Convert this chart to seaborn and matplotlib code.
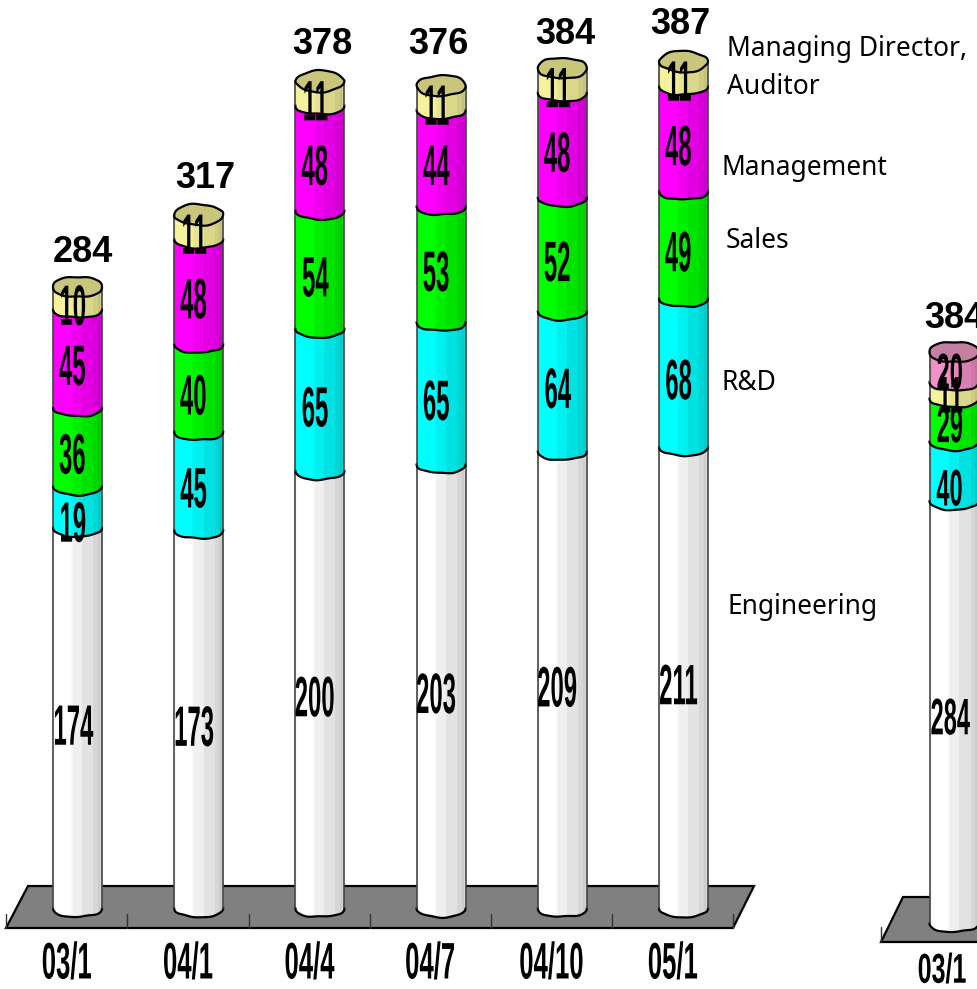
import numpy as np
import pandas as pd
import matplotlib
matplotlib.use("Agg")
import matplotlib.pyplot as plt
import seaborn as sns
from matplotlib.path import Path
from matplotlib.patches import Polygon
from matplotlib.patheffects import AbstractPathEffect
from matplotlib.transforms import Affine2D

# ---------- data ----------
dates = ["03/1", "04/1", "04/4", "04/7", "04/10", "05/1"]
engineering = [174, 173, 200, 203, 209, 211]
rnd = [19, 45, 65, 65, 64, 68]
sales = [36, 40, 54, 53, 52, 49]
management = [45, 48, 48, 44, 48, 48]
director = [10, 11, 11, 11, 11, 11]
totals = [284, 317, 378, 376, 384, 387]

dates2 = ["03/1"]
engineering2 = [284]
rnd2 = [40]
sales2 = [29]
director2 = [11]
management2 = [20]
totals2 = [384]

W, H = 977, 989
PPU1, PPU2 = 2.187, 1.487
UNIT = 121.2

sns.set_style("white")
fig = plt.figure(figsize=(W / 100, H / 100), dpi=100, facecolor="white")
px = Affine2D().scale(1 / W, -1 / H).translate(0, 1) + fig.transFigure


class Squeeze(AbstractPathEffect):
    """Condense a text horizontally about its own centre."""
    def __init__(self, sx, stroke=0.0):
        super().__init__()
        self.sx, self.stroke = sx, stroke

    def draw_path(self, renderer, gc, tpath, affine, rgbFace=None):
        ext = affine.transform_path(tpath).get_extents()
        cx = (ext.x0 + ext.x1) / 2
        tr = affine + Affine2D().translate(-cx, 0).scale(self.sx, 1).translate(cx, 0)
        g = renderer.new_gc()
        g.copy_properties(gc)
        g.set_linewidth(self.stroke)
        g.set_foreground("black")
        renderer.draw_path(g, tpath, tr, rgbFace)
        g.restore()


PROFILE = np.array([.98, 1, 1, 1, 1, 1, 1, 1, .97, .94, .94, .94, .94, .89, .89, .89, .89,
                    .89, .84, .84, .80, .84])


def shade(color):
    rgb = np.array(matplotlib.colors.to_rgb(color))
    return (rgb[None, None, :] * PROFILE[None, :, None]).clip(0, 1)


def wobble(th, k):
    return 0.7 * np.sin(3 * th + 1.7 * k) + 0.3 * np.sin(7 * th + k)


def draw_stack(ax, cats, series, colors, cap_color, ppu, width):
    bottoms = np.zeros(len(cats))
    h_arc = 9 / ppu
    n = 0
    for vals, col in zip(series, colors):
        n += 1
        df = pd.DataFrame({"date": cats, "count": vals})
        sns.barplot(data=df, x="date", y="count", color=col, width=width, bottom=bottoms,
                    ax=ax, errorbar=None, saturation=1, linewidth=0, order=cats)
        z = 2 + n * 0.1
        th = np.linspace(np.pi, 2 * np.pi, 60)
        for j, rect in enumerate(ax.containers[-1]):
            l, r = rect.get_x(), rect.get_x() + rect.get_width()
            b, t = rect.get_y(), rect.get_y() + rect.get_height()
            c = (l + r) / 2
            env = np.abs(np.sin(th))
            arc_x = c + (r - l) / 2 * np.cos(th)
            arc_y = b - h_arc * env ** 0.8 + wobble(th, n * 3 + j * 2) * env / ppu
            verts = [(l, t)] + list(zip(arc_x, arc_y)) + [(r, t), (l, t)]
            im = ax.imshow(shade(col), extent=(l, r, b - 2 * h_arc, t), aspect="auto",
                           interpolation="nearest", zorder=z)
            im.set_clip_path(Path(verts), ax.transData)
            ax.plot(arc_x, arc_y, color="black", lw=1.6, zorder=z + 0.05)
            ax.plot([l, l], [b, t], color="#444444", lw=1.2, zorder=z + 0.05)
            ax.plot([r, r], [b, t], color="#444444", lw=1.2, zorder=z + 0.05)
        bottoms = bottoms + np.array(vals)
    th = np.linspace(0, 2 * np.pi, 120)
    for j, (rect, top) in enumerate(zip(ax.containers[-1], bottoms)):
        c = rect.get_x() + rect.get_width() / 2
        cap_x = c + rect.get_width() / 2 * np.cos(th)
        cap_y = top + (10.5 * np.sin(th) + wobble(th, j)) / ppu
        ax.add_patch(Polygon(np.column_stack([cap_x, cap_y]), closed=True, facecolor=cap_color,
                             edgecolor="black", lw=1.6, zorder=3.5))


def segment_labels(ax, series, dx, base, fs, sx, nudges):
    bottoms = np.zeros(len(series[0]))
    for s, vals in enumerate(series):
        for i, v in enumerate(vals):
            ax.annotate(str(v), (i, bottoms[i] + v / 2),
                        xytext=(dx, -(base + nudges.get((s, i), 0)) * .72),
                        textcoords="offset points", ha="center", va="center", zorder=6,
                        family="Liberation Sans", weight="bold", fontsize=fs, color="black",
                        path_effects=[Squeeze(sx)], annotation_clip=False)
        bottoms = bottoms + np.array(vals)


def setup_axes(ax, cats, xlim, ylim, shift, pad, fs, sx):
    ax.set_xlim(*xlim)
    ax.set_ylim(*ylim)
    ax.set_yticks([])
    ax.set_xlabel("")
    ax.set_ylabel("")
    ax.set_xticks(np.arange(len(cats)) + shift, cats)
    ax.tick_params(axis="x", length=0, pad=pad)
    for lab in ax.get_xticklabels():
        lab.set_family("Liberation Sans")
        lab.set_weight("bold")
        lab.set_fontsize(fs)
        lab.set_color("black")
        lab.set_path_effects([Squeeze(sx)])
    for sp in ax.spines.values():
        sp.set_visible(False)
    ax.patch.set_alpha(0)


def floor(ax, pts, ticks, y0, y1):
    ax.add_patch(Polygon(pts, closed=True, transform=px, facecolor="#808080", edgecolor="black",
                         lw=1.6, zorder=0.5, clip_on=False))
    for tx in ticks:
        ax.plot([tx, tx], [y0, y1], transform=px, color="#333333", lw=1, zorder=0.6, clip_on=False)


# ---------- main chart ----------
ax = fig.add_axes([0, 1 - 928 / H, 1, 928 / H])
floor(ax, [(6, 928), (28, 886), (754, 886), (733, 928)],
      [6, 127, 249, 370, 491, 612, 733], 914, 928)
series1 = [engineering, rnd, sales, management, director]
colors1 = ["#FFFFFF", "#00FFFF", "#00FF00", "#FF00FF", "#F6F29C"]
draw_stack(ax, dates, series1, colors1, "#C9C67C", PPU1, 49 / UNIT)
setup_axes(ax, dates, (-77.5 / UNIT, (W - 77.5) / UNIT), ((908 - 928) / PPU1, 908 / PPU1),
           -0.09, 9, 37, 0.5)
segment_labels(ax, series1, -3.6, 12, 41, 0.42, {(1, 0): 8})
total_dx = [5, 7, 2, -3, 3, -3]
total_dy = [34, 36, 37, 41, 34, 37]
for i, t in enumerate(totals):
    ax.annotate(str(t), (i, t), xytext=(total_dx[i] * .72, total_dy[i] * .72),
                textcoords="offset points", ha="center", va="center", fontsize=26, color="black",
                family="Liberation Sans", weight="bold", annotation_clip=False, zorder=6)

legend_names = ["Managing Director,", "Auditor", "Management", "Sales", "R&D", "Engineering"]
legend_x = [727, 727, 722, 726, 722, 728]
legend_y = [49, 87, 168, 241, 383, 607]
for name, x, y in zip(legend_names, legend_x, legend_y):
    ax.text(x, y, name, transform=px, ha="left", va="center", family="Noto Sans",
            fontsize=19, color="black", zorder=6)

# ---------- second, cut-off chart ----------
ax2 = fig.add_axes([860 / W, 1 - 942 / H, (W - 860) / W, 942 / H])
floor(ax2, [(881, 942), (903, 897), (1010, 897), (1010, 942)], [881], 927, 942)
series2 = [engineering2, rnd2, sales2, director2, management2]
colors2 = ["#FFFFFF", "#00FFFF", "#00FF00", "#F6F29C", "#F490C8"]
draw_stack(ax2, dates2, series2, colors2, "#C47FA2", PPU2, 49 / UNIT)
setup_axes(ax2, dates2, (-94 / UNIT, 23 / UNIT), ((923 - 942) / PPU2, 923 / PPU2),
           -0.1, 7, 30, 0.6)
segment_labels(ax2, series2, -3, 9, 37, 0.46, {(1, 0): 12})
ax2.annotate(str(totals2[0]), (0, totals2[0]), xytext=(0, 33 * .72), textcoords="offset points",
             ha="center", va="center", fontsize=26, color="black", family="Liberation Sans",
             weight="bold", annotation_clip=False, zorder=6)

fig.savefig("out.png", dpi=100)
